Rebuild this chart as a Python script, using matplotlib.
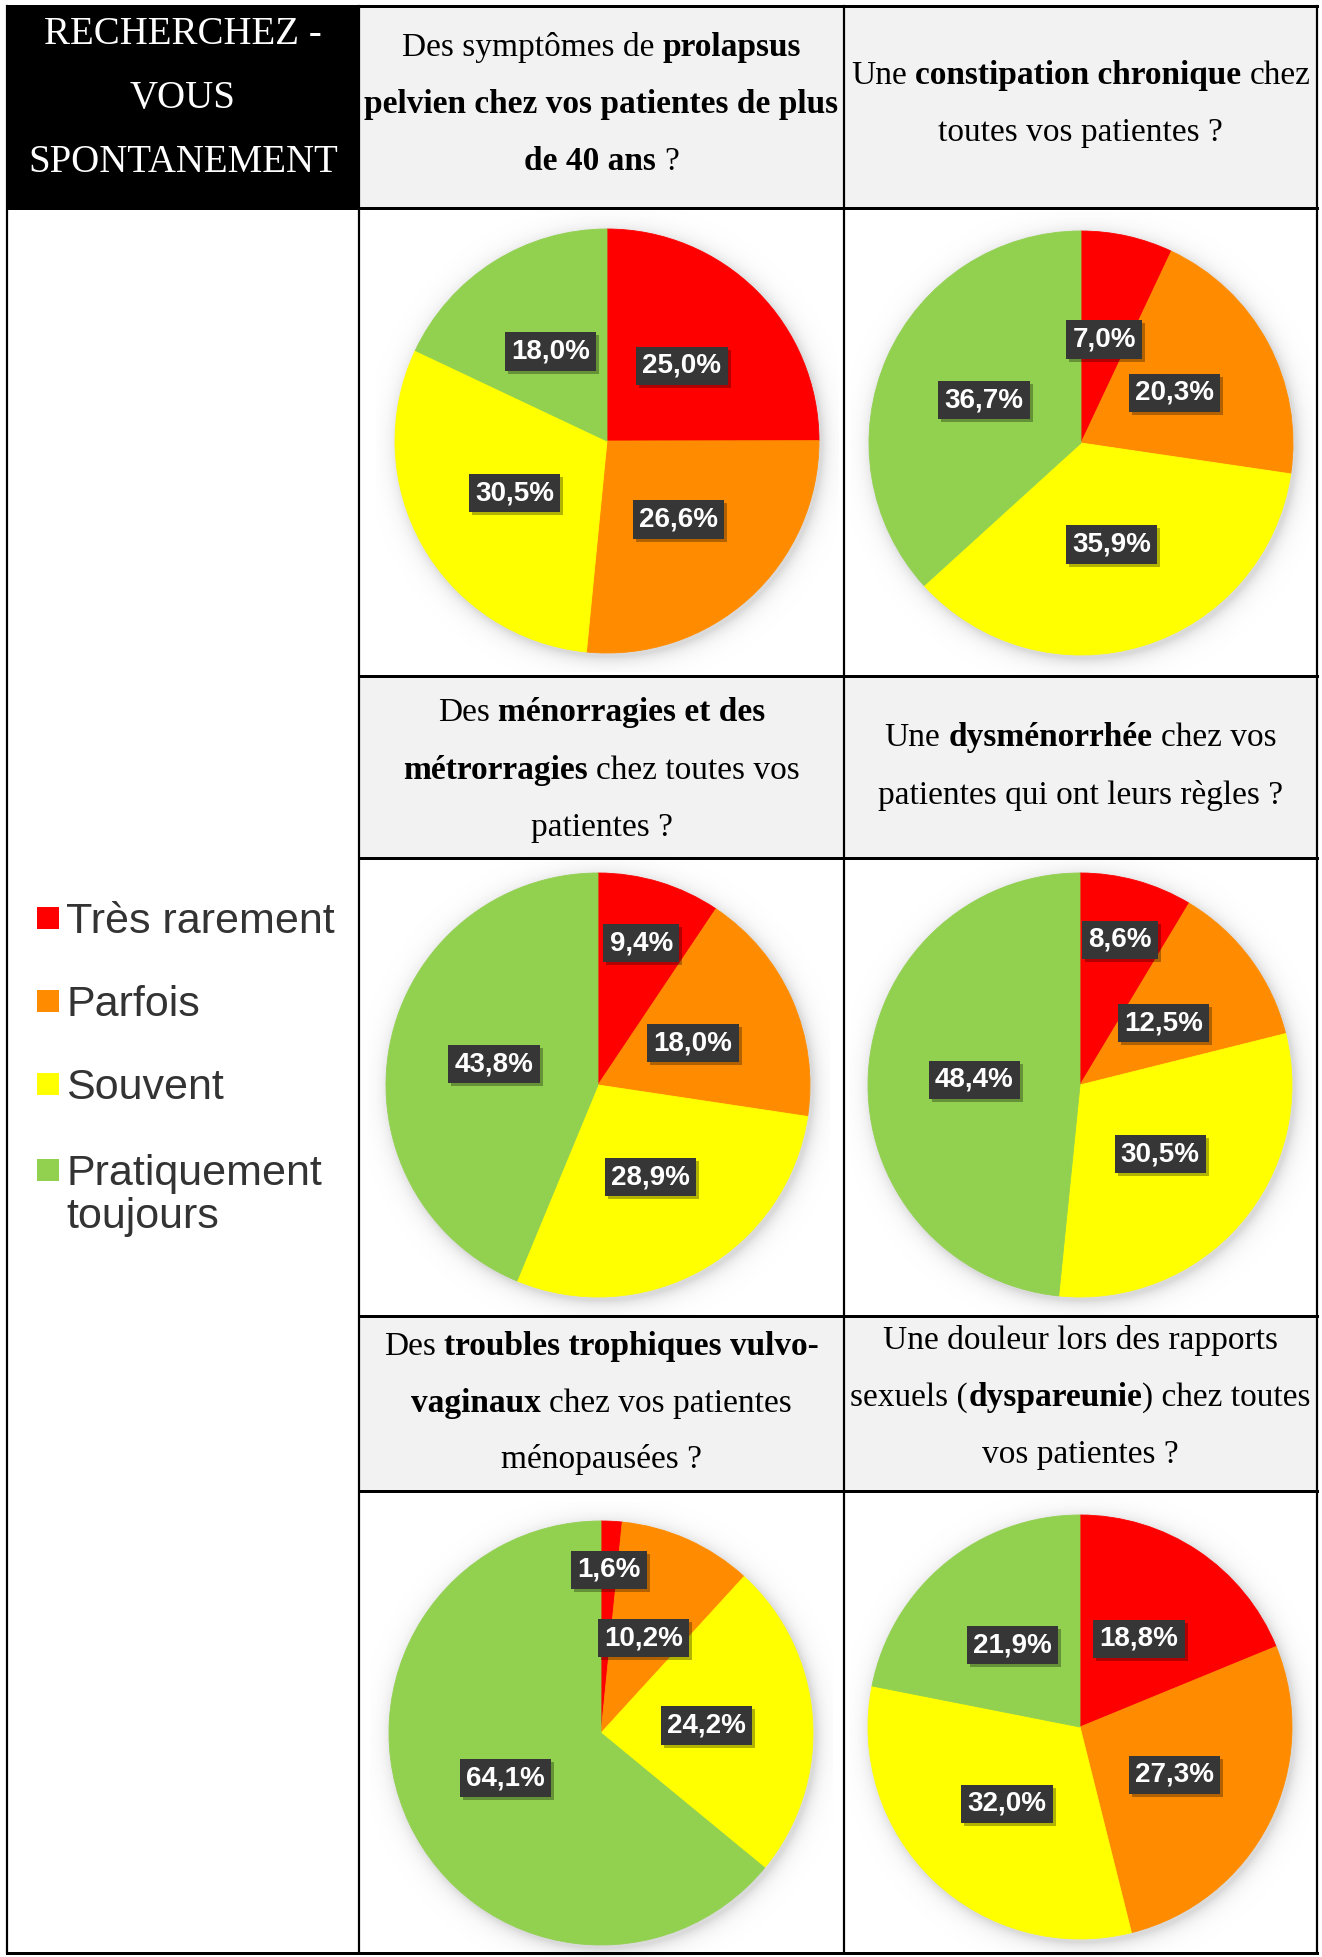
import numpy as np
import matplotlib
matplotlib.use("Agg")
import matplotlib.pyplot as plt
from matplotlib.patches import Rectangle
from matplotlib import transforms

# ---------------- data ----------------
categories = ["Très rarement", "Parfois", "Souvent", "Pratiquement toujours"]
legend_labels = ["Très rarement", "Parfois", "Souvent", "Pratiquement\ntoujours"]
colors = ["#ff0000", "#ff8c00", "#ffff00", "#92d050"]

prolapsus = [25.0, 26.6, 30.5, 18.0]
constipation = [7.0, 20.3, 35.9, 36.7]
menorragies = [9.4, 18.0, 28.9, 43.8]
dysmenorrhee = [8.6, 12.5, 30.5, 48.4]
troubles_trophiques = [1.6, 10.2, 24.2, 64.1]
dyspareunie = [18.8, 27.3, 32.0, 21.9]

corner_title = ["RECHERCHEZ -", "VOUS", "SPONTANEMENT"]

q_prolapsus = [[("Des symptômes de ", False), ("prolapsus", True)],
               [("pelvien chez vos patientes de plus", True)],
               [("de 40 ans", True), (" ?", False)]]
q_constipation = [[("Une ", False), ("constipation chronique", True), (" chez", False)],
                  [("toutes vos patientes ?", False)]]
q_menorragies = [[("Des ", False), ("ménorragies et des", True)],
                 [("métrorragies", True), (" chez toutes vos", False)],
                 [("patientes ?", False)]]
q_dysmenorrhee = [[("Une ", False), ("dysménorrhée", True), (" chez vos", False)],
                  [("patientes qui ont leurs règles ?", False)]]
q_troubles = [[("Des ", False), ("troubles trophiques vulvo-", True)],
              [("vaginaux", True), (" chez vos patientes", False)],
              [("ménopausées ?", False)]]
q_dyspareunie = [[("Une douleur lors des rapports", False)],
                 [("sexuels (", False), ("dyspareunie", True), (") chez toutes", False)],
                 [("vos patientes ?", False)]]

# ---------------- layout ----------------
W, H = 1322, 1957
fig = plt.figure(figsize=(W / 100, H / 100), dpi=100)
fig.patch.set_facecolor("white")
base = fig.add_axes([0, 0, 1, 1])
base.set_xlim(0, W)
base.set_ylim(H, 0)
base.axis("off")

L, R_, T, B = 7, 1317, 6, 1953
C1, C2 = 359, 844
rows = [208, 676, 858, 1316, 1491]
header_gray = "#f2f2f2"

# backgrounds
base.add_patch(Rectangle((L, T), C1 - L, rows[0] - T, facecolor="black", edgecolor="none"))
for (y0, y1) in [(T, rows[0]), (rows[1], rows[2]), (rows[3], rows[4])]:
    base.add_patch(Rectangle((C1, y0), R_ - C1, y1 - y0, facecolor=header_gray, edgecolor="none"))

renderer = fig.canvas.get_renderer()
SERIF = "Liberation Serif"
SANS = "Liberation Sans"


def measure(s, bold, fs, family):
    t = base.text(0, 100, s, fontsize=fs, fontweight="bold" if bold else "normal", family=family)
    w = t.get_window_extent(renderer).width
    t.remove()
    return w


def rich_line(xc, yb, segs, fs, color="black"):
    space = measure("a a", False, fs, SERIF) - measure("aa", False, fs, SERIF)
    parts = []
    total = 0.0
    for s, b in segs:
        lead = len(s) - len(s.lstrip(" "))
        trail = len(s) - len(s.rstrip(" "))
        core = s.strip(" ")
        w = measure(core, b, fs, SERIF)
        parts.append((lead * space, core, b, w, trail * space))
        total += lead * space + w + trail * space
    x = xc - total / 2
    for lead, core, b, w, trail in parts:
        x += lead
        base.text(x, yb, core, fontsize=fs, fontweight="bold" if b else "normal",
                  family=SERIF, ha="left", va="baseline", color=color)
        x += w + trail


# corner title
for txt, yb in zip(corner_title, [44, 108, 172]):
    base.text((L + C1) / 2, yb, txt, fontsize=28, family=SERIF, color="white",
              ha="center", va="baseline")

# question headers
col_centers = [(C1 + C2) / 2, (C2 + R_) / 2]
headers = [
    (q_prolapsus, col_centers[0], [56, 113, 170]),
    (q_constipation, col_centers[1], [84, 141]),
    (q_menorragies, col_centers[0], [721, 779, 836]),
    (q_dysmenorrhee, col_centers[1], [746, 804]),
    (q_troubles, col_centers[0], [1355, 1412, 1468]),
    (q_dyspareunie, col_centers[1], [1349, 1406, 1463]),
]
for lines, xc, ybs in headers:
    for segs, yb in zip(lines, ybs):
        rich_line(xc, yb, segs, 24)

# legend
sq_centers = [918, 1001, 1084, 1170]
for lab, col, yc in zip(legend_labels, colors, sq_centers):
    base.add_patch(Rectangle((37, yc - 11), 22, 22, facecolor=col, edgecolor="none"))
    for k, ln in enumerate(lab.split("\n")):
        base.text(66, yc + 15 + k * 43, ln, fontsize=31, family=SANS, color="#333333",
                  ha="left", va="baseline")

# ---------------- pies ----------------
pies = [
    (prolapsus, (607, 441)),
    (constipation, (1081, 443)),
    (menorragies, (598, 1085)),
    (dysmenorrhee, (1080, 1085)),
    (troubles_trophiques, (601, 1733)),
    (dyspareunie, (1080, 1727)),
]
label_dist = [[0.5] * 4, [0.5] * 4, [0.70, 0.49, 0.5, 0.5], [0.71, 0.49, 0.5, 0.5],
              [0.77, 0.49, 0.5, 0.5], [0.5] * 4]
RAD = 212
LIM = 1.09

# soft shadow image grid
g = np.linspace(-LIM, LIM, 400)
gx, gy = np.meshgrid(g, g)
dist = np.hypot(gx - 0.012, gy + 0.02)
alpha = np.where(dist < 1.0, 0.32, 0.32 * np.exp(-(dist - 1.0) / 0.035))
shadow = np.zeros((400, 400, 4))
shadow[..., :3] = 0.55
shadow[..., 3] = alpha

for (vals, (cx, cy)), dists in zip(pies, label_dist):
    half = RAD * LIM
    ax = fig.add_axes([(cx - half) / W, 1 - (cy + half) / H, 2 * half / W, 2 * half / H])
    ax.imshow(shadow, extent=[-LIM, LIM, -LIM, LIM], origin="lower", zorder=0,
              interpolation="bilinear")
    wedges, _ = ax.pie(vals, colors=colors, startangle=90, counterclock=False, radius=1,
                       wedgeprops=dict(linewidth=0.6, antialiased=True))
    ax.set_xlim(-LIM, LIM)
    ax.set_ylim(-LIM, LIM)
    ax.set_aspect("equal")
    ax.axis("off")
    for w, c in zip(wedges, colors):
        w.set_edgecolor(c)
        w.set_zorder(2)
    shadow_tr = transforms.offset_copy(ax.transData, fig=fig, x=3, y=-3, units="dots")
    for w, v, d in zip(wedges, vals, dists):
        ang = np.deg2rad((w.theta1 + w.theta2) / 2)
        x, y = d * np.cos(ang), d * np.sin(ang)
        lab = f"{v:.1f}%".replace(".", ",")
        ax.text(x, y, lab, transform=shadow_tr, fontsize=20, fontweight="bold", family=SANS,
                color="none", ha="center", va="center", zorder=3,
                bbox=dict(boxstyle="square,pad=0.22", facecolor="black", alpha=0.3,
                          edgecolor="none"))
        ax.text(x, y, lab, fontsize=20, fontweight="bold", family=SANS, color="white",
                ha="center", va="center", zorder=4,
                bbox=dict(boxstyle="square,pad=0.22", facecolor="#363636", edgecolor="none"))

# ---------------- grid lines (overlay) ----------------
over = fig.add_axes([0, 0, 1, 1], zorder=10)
over.set_xlim(0, W)
over.set_ylim(H, 0)
over.axis("off")
over.patch.set_alpha(0)
hlw = 3 * 72 / 100
vlw = 2.2 * 72 / 100
over.plot([L, R_], [T, T], color="black", lw=hlw, solid_capstyle="projecting")
over.plot([L, R_], [B, B], color="black", lw=hlw, solid_capstyle="projecting")
over.plot([L, L], [T, B], color="black", lw=vlw)
over.plot([R_, R_], [T, B], color="black", lw=vlw)
over.plot([C1, C1], [T, B], color="black", lw=vlw)
over.plot([C2, C2], [T, B], color="black", lw=vlw)
over.plot([L, R_], [rows[0], rows[0]], color="black", lw=hlw)
for y in rows[1:]:
    over.plot([C1, R_], [y, y], color="black", lw=hlw)

fig.savefig("out.png", dpi=100, facecolor="white")
